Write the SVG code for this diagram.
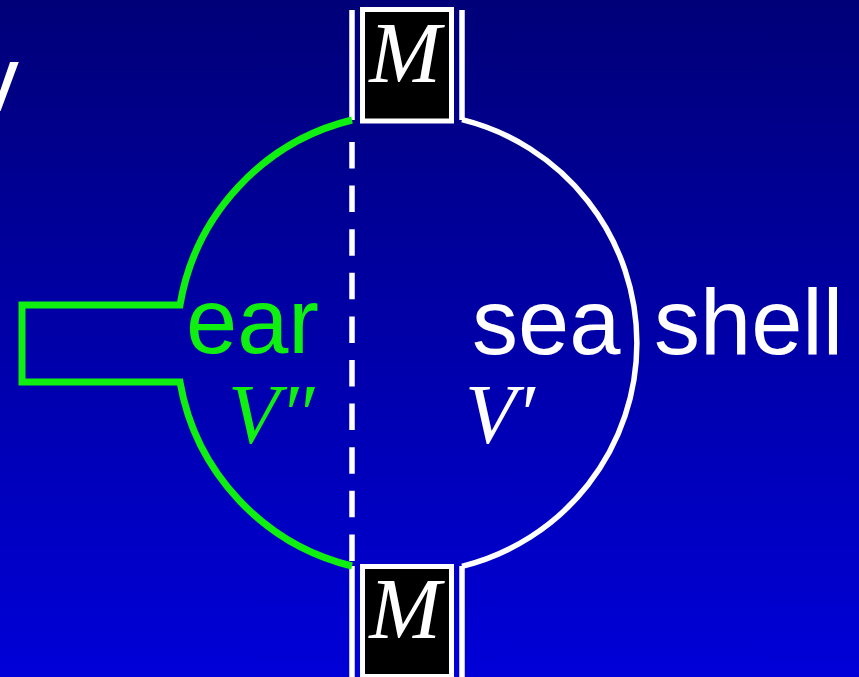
<svg xmlns="http://www.w3.org/2000/svg" width="859" height="677" viewBox="0 0 859 677">
  <defs>
    <linearGradient id="bg" x1="0" y1="0" x2="0" y2="1">
      <stop offset="0" stop-color="#000078"/>
      <stop offset="1" stop-color="#0000d8"/>
    </linearGradient>
    <style>
      .sans { font-family: "Liberation Sans", Arial, sans-serif; font-size: 92px; }
      .math { font-family: "Liberation Serif", "Times New Roman", serif; font-style: italic; }
      .white { fill: #ffffff; }
      .green { fill: #10f010; }
      .wline { stroke: #ffffff; stroke-width: 5.5; fill: none; }
      .gline { stroke: #10f010; stroke-width: 7; fill: none; }
      .mbox { fill: #000000; stroke: #ffffff; stroke-width: 5; }
    </style>
  </defs>
  <rect x="0" y="0" width="859" height="677" fill="url(#bg)"/>
  <text class="sans white" x="-27" y="111">v</text>

  <g id="connectors">
    <line class="wline" x1="352" y1="10" x2="352" y2="120"/>
    <line class="wline" x1="462" y1="10" x2="462" y2="120"/>
    <line class="wline" x1="352" y1="566" x2="352" y2="677"/>
    <line class="wline" x1="462" y1="566" x2="462" y2="677"/>
    <line class="wline" x1="352" y1="142" x2="352" y2="562" stroke-dasharray="26.5 17.1"/>
  </g>

  <g id="seashell">
    <path class="wline" d="M462,119.7 A230,230 0 0 1 462,566.3"/>
    <text class="sans white" x="472" y="354">sea</text>
    <text class="sans white" x="654" y="354">shell</text>
    <text class="math white" x="465" y="443" font-size="84">V′</text>
  </g>

  <g id="ear">
    <path class="gline" d="M352,120 A230,230 0 0 0 180,305 L22,305 L22,382 L180,382 A230,230 0 0 0 352,566"/>
    <text class="sans green" x="186" y="353">ear</text>
    <text class="math green" x="228" y="443" font-size="84">V″</text>
  </g>

  <g id="m-top">
    <rect class="mbox" x="362.5" y="9.5" width="89" height="111.5"/>
    <text class="math white" x="405" y="82" font-size="86" text-anchor="middle">M</text>
  </g>

  <g id="m-bottom">
    <rect class="mbox" x="362.5" y="566.5" width="89" height="110"/>
    <text class="math white" x="405" y="638" font-size="86" text-anchor="middle">M</text>
  </g>
</svg>
